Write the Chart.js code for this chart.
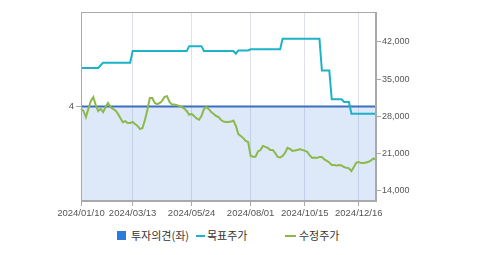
<!DOCTYPE html>
<html>
<head>
<meta charset="utf-8">
<script src="https://cdn.jsdelivr.net/npm/chart.js@4.4.1/dist/chart.umd.min.js"></script>
<style>
  html, body { margin: 0; padding: 0; background: #fff; }
  #wrap { position: relative; width: 479px; height: 255px; overflow: hidden; }
  #chart { position: absolute; left: 58px; top: 0; }
  .lg { position: absolute; font: 11px "Noto Sans CJK KR", sans-serif; color: #333; line-height: 12px; }
  .sw { position: absolute; }
</style>
</head>
<body>
<div id="wrap">
  <canvas id="chart" width="421" height="225"></canvas>
  <div class="sw" style="left:117px;top:231px;width:9px;height:9px;background:#2b7bdc"></div>
  <div class="lg" style="left:131px;top:229px">투자의견(좌)</div>
  <div class="sw" style="left:196px;top:235px;width:9px;height:2px;background:#1db2c8"></div>
  <div class="lg" style="left:207px;top:229px">목표주가</div>
  <div class="sw" style="left:285px;top:235px;width:11px;height:2px;background:#8db94c"></div>
  <div class="lg" style="left:299px;top:229px">수정주가</div>
</div>
<script>
// x axis tick labels and where they sit in the series (every 2nd trading day)
const tickLabels = ['2024/01/10', '2024/03/13', '2024/05/24', '2024/08/01', '2024/10/15', '2024/12/16']
const tickIndex = [0, 21, 45, 69, 91, 113]

// 수정주가
const price = [
  29400, 29000, 27850, 29400, 30900, 31600, 30100, 29000, 29400, 28800,
  29750, 30500, 29750, 29400, 29100, 28500, 27700, 26900, 27100, 26750,
  26750, 26950, 26550, 26200, 25600, 25800, 27300, 29200, 31450, 31450,
  30500, 30300, 30500, 30900, 31650, 31800, 30700, 30200, 30200, 30100,
  29950, 29750, 29450, 29000, 28300, 28450, 28050, 27600, 27350, 28050,
  29350, 29750, 29350, 28800, 28450, 28050, 27850, 27300, 27000, 26950,
  26950, 27000, 27200, 26200, 24650, 24300, 23900, 23350, 23150, 20550,
  20400, 20400, 21400, 21650, 22400, 22250, 22050, 21650, 21650, 21100,
  20350, 20250, 20550, 21100, 22050, 21850, 21500, 21550, 21650, 21850,
  21650, 21550, 21300, 20700, 20150, 20250, 20150, 20350, 20350, 19900,
  19600, 19300, 18850, 18850, 18750, 18850, 18750, 18450, 18300, 18200,
  17700, 18450, 19300, 19400, 19200, 19200, 19300, 19450, 19700, 20050,
  19800
]

// 목표주가
const target = [
  37100, 37100, 37100, 37100, 37100, 37100, 37100, 37100, 37600, 38100,
  38100, 38100, 38100, 38100, 38100, 38100, 38100, 38100, 38100, 38100,
  38100, 40300, 40300, 40300, 40300, 40300, 40300, 40300, 40300, 40300,
  40300, 40300, 40300, 40300, 40300, 40300, 40300, 40300, 40300, 40300,
  40300, 40300, 40300, 40300, 41200, 41200, 41200, 41200, 41200, 41200,
  40300, 40300, 40300, 40300, 40300, 40300, 40300, 40300, 40300, 40300,
  40300, 40300, 40300, 39800, 40400, 40400, 40400, 40400, 40400, 40600,
  40600, 40600, 40600, 40600, 40600, 40600, 40600, 40600, 40600, 40600,
  40600, 40600, 42600, 42600, 42600, 42600, 42600, 42600, 42600, 42600,
  42600, 42600, 42600, 42600, 42600, 42600, 42600, 42600, 36600, 36600,
  36600, 36600, 31200, 31200, 31200, 31200, 31200, 30700, 30700, 30700,
  28500, 28500, 28500, 28500, 28500, 28500, 28500, 28500, 28500, 28500,
  28500
]

// 투자의견 (4 = 매수)
const opinion = [
  4, 4, 4, 4, 4, 4, 4, 4, 4, 4, 4, 4, 4, 4, 4, 4, 4, 4, 4, 4,
  4, 4, 4, 4, 4, 4, 4, 4, 4, 4, 4, 4, 4, 4, 4, 4, 4, 4, 4, 4,
  4, 4, 4, 4, 4, 4, 4, 4, 4, 4, 4, 4, 4, 4, 4, 4, 4, 4, 4, 4,
  4, 4, 4, 4, 4, 4, 4, 4, 4, 4, 4, 4, 4, 4, 4, 4, 4, 4, 4, 4,
  4, 4, 4, 4, 4, 4, 4, 4, 4, 4, 4, 4, 4, 4, 4, 4, 4, 4, 4, 4,
  4, 4, 4, 4, 4, 4, 4, 4, 4, 4, 4, 4, 4, 4, 4, 4, 4, 4, 4, 4,
  4
]

const priceTicks = [14000, 21000, 28000, 35000, 42000]

const labels = price.map((v, i) => {
  const k = tickIndex.indexOf(i)
  return k >= 0 ? tickLabels[k] : ''
})

const axisGray = '#a9a9a9'
const tickFont = { family: 'Liberation Sans, Arial, sans-serif', size: 9.5 }

const frame = {
  id: 'frame',
  afterDatasetsDraw (chart) {
    const { ctx, chartArea: a } = chart
    ctx.save()
    ctx.strokeStyle = axisGray
    ctx.lineWidth = 1
    ctx.strokeRect(Math.round(a.left) + 0.5, Math.round(a.top) + 0.5,
      Math.round(a.right - a.left) - 1, Math.round(a.bottom - a.top) - 1)
    ctx.restore()
  }
}

const config = {
  type: 'line',
  data: {
    labels,
    datasets: [
      {
        label: '수정주가',
        data: price,
        yAxisID: 'yPrice',
        borderColor: '#8db94c',
        borderWidth: 2,
        pointRadius: 0,
        tension: 0,
        order: 1
      },
      {
        label: '목표주가',
        data: target,
        yAxisID: 'yPrice',
        borderColor: '#1db2c8',
        borderWidth: 2,
        pointRadius: 0,
        tension: 0,
        order: 2
      },
      {
        label: '투자의견(좌)',
        data: opinion,
        yAxisID: 'yOpinion',
        borderColor: '#3d6fbf',
        borderWidth: 2,
        backgroundColor: 'rgba(100, 150, 225, 0.22)',
        fill: 'start',
        pointRadius: 0,
        tension: 0,
        order: 3
      }
    ]
  },
  options: {
    responsive: false,
    animation: false,
    events: [],
    layout: { padding: { top: 12, left: 0, right: 0, bottom: 0 } },
    plugins: {
      legend: { display: false },
      tooltip: { enabled: false },
      filler: { drawTime: 'beforeDatasetsDraw' }
    },
    scales: {
      x: {
        type: 'category',
        offset: false,
        grid: { color: '#dde2ea', tickColor: axisGray, tickLength: 5 },
        border: { color: axisGray },
        ticks: {
          autoSkip: false, maxRotation: 0, minRotation: 0,
          padding: 2, color: '#555', font: tickFont
        },
        afterBuildTicks: (scale) => { scale.ticks = tickIndex.map((i) => ({ value: i })) },
        afterFit: (scale) => { scale.height = 24; scale.paddingLeft = 0; scale.paddingRight = 0 }
      },
      yOpinion: {
        position: 'left',
        min: 0,
        max: 8,
        grid: { drawOnChartArea: false, tickColor: axisGray, tickLength: 5 },
        border: { color: axisGray },
        ticks: { padding: 2, color: '#555', font: tickFont },
        afterBuildTicks: (scale) => { scale.ticks = [{ value: 4 }] },
        afterFit: (scale) => { scale.width = 23 }
      },
      yPrice: {
        position: 'right',
        min: 12060,
        max: 47630,
        grid: { drawOnChartArea: false, tickColor: axisGray, tickLength: 5 },
        border: { color: axisGray },
        ticks: {
          padding: 1, color: '#555', font: { family: 'Liberation Sans, Arial, sans-serif', size: 9 },
          callback: (v) => v.toLocaleString('en-US')
        },
        afterBuildTicks: (scale) => { scale.ticks = priceTicks.map((v) => ({ value: v })) },
        afterFit: (scale) => { scale.width = 103 }
      }
    }
  },
  plugins: [frame]
}

new Chart(document.getElementById('chart').getContext('2d'), config)
</script>
</body>
</html>
